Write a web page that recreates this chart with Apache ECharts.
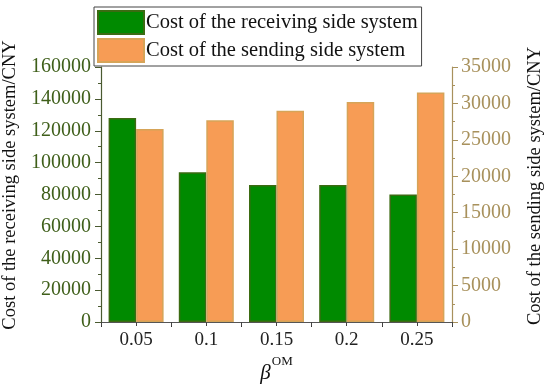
<!DOCTYPE html>
<html><head><meta charset="utf-8">
<script src="https://cdn.jsdelivr.net/npm/echarts@6/dist/echarts.min.js"></script>
<style>html,body{margin:0;padding:0;background:#fff}#c{width:550px;height:385px}</style>
</head><body><div id="c"></div>
<script>
var categories = ['0.05', '0.1', '0.15', '0.2', '0.25'];
var receivingCost = [128000, 94000, 86000, 86000, 80000];
var sendingCost = [26500, 27700, 29000, 30200, 31500];
var leftTicks = [0, 160000, 20000];
var rightTicks = [0, 35000, 5000];

var FONT = '"Liberation Serif", "DejaVu Serif", serif';
var leftColor = '#3f5f1a';
var rightColor = '#a8915c';
var plain = function (v) { return String(v); };
var chart = echarts.init(document.getElementById('c'), null, {renderer: 'canvas'});
chart.setOption({
  animation: false,
  textStyle: {fontFamily: FONT},
  legend: {
    orient: 'vertical', left: 94, top: 7,
    icon: 'rect',
    itemWidth: 46, itemHeight: 23, itemGap: 3,
    padding: [3, 4, 3, 3],
    borderColor: '#444', borderWidth: 1,
    textStyle: {fontFamily: FONT, fontSize: 20.5, color: '#111', padding: [0, 0, 0, -3]},
    data: ['Cost of the receiving side system', 'Cost of the sending side system']
  },
  grid: {left: 101, right: 98, top: 67, bottom: 63, containLabel: false, outerBoundsMode: 'none'},
  xAxis: [{
    type: 'category', data: categories,
    name: '{b|β}{s|OM}', nameLocation: 'middle', nameGap: 24,
    nameTextStyle: {rich: {
      b: {fontFamily: FONT, fontStyle: 'italic', fontSize: 21, color: '#111', padding: [8, 0, 0, 0]},
      s: {fontFamily: FONT, fontSize: 13, color: '#111', verticalAlign: 'top', padding: [0, 0, 0, 1]}
    }},
    axisLine: {lineStyle: {color: '#5a5a30', width: 1.2}},
    axisTick: {show: true, inside: false, length: 5, lineStyle: {color: '#333'}},
    axisLabel: {fontFamily: FONT, fontSize: 19, color: '#222', margin: 9}
  }, {
    type: 'value', position: 'top', min: 0, max: 10, interval: 1,
    axisLine: {show: true, lineStyle: {color: '#555', width: 1}},
    axisTick: {show: true, inside: true, length: 4, lineStyle: {color: '#444'}},
    axisLabel: {show: false}, splitLine: {show: false}
  }],
  yAxis: [{
    type: 'value', min: leftTicks[0], max: leftTicks[1], interval: leftTicks[2],
    name: 'Cost of the receiving side system/CNY', nameLocation: 'middle', nameGap: 71,
    nameTextStyle: {fontFamily: FONT, fontSize: 18.5, color: '#111', padding: [0, 0, 0, 19]},
    axisLine: {show: true, lineStyle: {color: '#4a5a30', width: 1.2}},
    axisTick: {show: true, inside: false, length: 6, lineStyle: {color: '#4a5a30'}},
    minorTick: {show: true, splitNumber: 2, length: 3, lineStyle: {color: '#4a5a30'}},
    axisLabel: {fontFamily: FONT, fontSize: 20, color: leftColor, margin: 10, formatter: plain},
    splitLine: {show: false}
  }, {
    type: 'value', min: rightTicks[0], max: rightTicks[1], interval: rightTicks[2],
    name: 'Cost of the sending side system/CNY', nameLocation: 'middle', nameGap: 74,
    nameRotate: 90,
    nameTextStyle: {fontFamily: FONT, fontSize: 18.5, color: '#111', padding: [0, 0, 0, 17]},
    axisLine: {show: true, lineStyle: {color: rightColor, width: 1.2}},
    axisTick: {show: true, inside: false, length: 6, lineStyle: {color: rightColor}},
    minorTick: {show: true, splitNumber: 2, length: 3, lineStyle: {color: rightColor}},
    axisLabel: {fontFamily: FONT, fontSize: 20, color: rightColor, margin: 9, formatter: plain},
    splitLine: {show: false}
  }],
  series: [{
    name: 'Cost of the receiving side system', type: 'bar', yAxisIndex: 0,
    data: receivingCost, barWidth: 27.5, barGap: '0%',
    itemStyle: {color: '#008a00', borderColor: '#3b6b12', borderWidth: 1.5}
  }, {
    name: 'Cost of the sending side system', type: 'bar', yAxisIndex: 1,
    data: sendingCost, barWidth: 27.5, barGap: '0%',
    itemStyle: {color: '#f79c55', borderColor: '#d6a458', borderWidth: 1.5}
  }]
});
</script></body></html>
